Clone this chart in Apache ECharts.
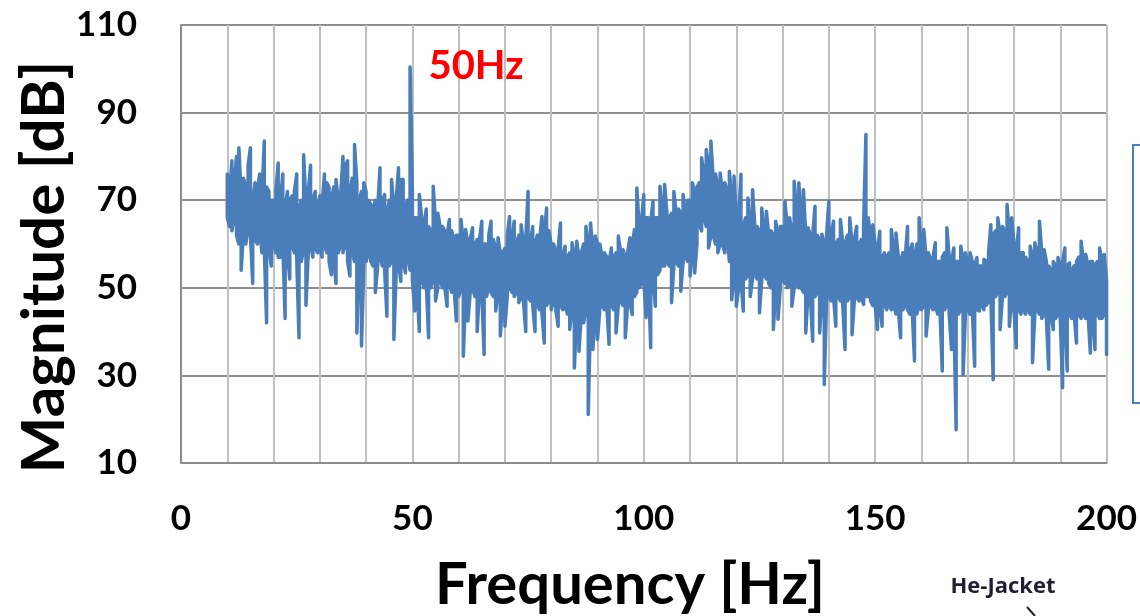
<!DOCTYPE html>
<html>
<head>
<meta charset="utf-8">
<script src="https://cdn.jsdelivr.net/npm/echarts@6/dist/echarts.min.js"></script>
<style>
  html, body { margin: 0; padding: 0; background: #ffffff; }
  #chart { width: 1140px; height: 616px; }
</style>
</head>
<body>
<div id="chart"></div>
<script>
// Frequency bins: 10 Hz to 200 Hz, 0.5 Hz apart.
// For each bin the spectrum's highest and lowest magnitude [dB] inside the bin.
const freqStart = 10;
const freqStep = 0.5;

const upper10  = [76,72,79,74,80,82,71,75,73,78,82,70,74,72,76,71,83.5,73,72,70];
const lower10  = [66,64,63,66,62,60,54,63,60,64,62,51,61,60,63,58,59,42,60,55];
const upper20  = [70,72,78.5,70,76,68,72,70,71,72,76,68,70,80.4,69,72,78,70,72,68];
const lower20  = [60,58,57,57,60,43,58,52,60,58,57,38.6,56,59,46,58,60,57,59,58];
const upper30  = [71,69,76,74,73,70,73,74.7,70,71,80,78,79,72,75,82.7,74,70,72,74];
const lower30  = [59,57,60,58,56,53,57,51,58,60,58,60,56,52.7,58,56,39.7,55,36.7,55];
const upper40  = [72,70,69,68,70,68,77.4,70,71.3,67,70,74.7,68,70,77.4,74.7,74.7,69,70,100.4];
const lower40  = [56,58,56,55,48.9,55,57,55,54,43.5,55,56,38.2,54,56,51.5,56,53.4,57,54];
const upper50  = [72,66,66,71.3,66,64,68,64,63,73.2,65,67,64,64,63,62,65.6,63,61,62];
const lower50  = [52,44.7,50,40,52,50,51,38.6,50,52,47,50,52,50,50,45.8,51,49,50,42.4];
const upper60  = [62,65.6,60,63.3,60,61,63.7,60,61,61,65.2,60,60,62,65.2,61,59,61.4,58,58];
const lower60  = [48,50,34.4,48,42.4,49,50,48,40,50,49,34.8,48,50,49,48,44.7,49,39,47];
const upper70  = [59,62,66.3,61,65.2,60,62,64.4,60,61,72,60,64,60,62,61,66.3,62,68.2,63];
const lower70  = [41.2,48,50,49,48,49,46.6,48,47,40,48,47,46,40,46,45,44,37.4,46,47];
const upper80  = [60,60,58,59,64.8,57,59.5,57,58,60.3,57,60.6,57,58,60,64,60,64.8,58,61.8];
const lower80  = [45,47,45,41.2,46,45,46,44,40.5,45,31.7,44,35.5,44,42,45,21.1,44,35.9,44];
const upper90  = [60,60,57,58,57,56,59.1,57,58,61.8,58,58.7,57,58,61.4,60,63.3,72.8,64,65];
const lower90  = [38.2,45,46,45,46,37.1,46,45,39.7,46,47,46,38.6,46,47,43.9,48,49,50,51];
const upper100 = [71.3,66,66,65,69.8,66,66,73.2,68,73.6,67,66,67,72,67,68,67,71.3,67,70];
const lower100 = [52,43.2,52,36.3,52,45.8,53,54,55,55,56,55,46.6,55,56,55,49.2,56,57,56];
const upper110 = [70,74,72,73,74,79.7,76,81.6,78,83.5,75,76,73,76.2,72,74,72,76.6,70,75.5];
const lower110 = [52.7,58,53.4,60,64.4,63,66,64,59.1,62,62,60,58,60,60,58,62,56,47.3,52];
const upper120 = [66,66,75.9,64,66,70.5,64,72.4,64,64,63,68.2,63,67.5,62,63,62,65.2,62,64];
const lower120 = [45.8,50,52,44.7,52,53,48,52,53,52,44.3,52,53,52,51,50,40.5,50,42.8,50];
const upper130 = [64,69.8,64,66,63,74.3,68,74,66,72.4,62,63.7,62,62,68.6,62,61,62.2,60,62];
const lower130 = [52,51,50,51,45.8,50,51,50,50,49,39.7,49,48,37.8,48,49,39.7,48,27.9,47];
const upper140 = [69.8,62,65.2,60,61,65.6,60,60,62,66,60,61,64,60,61,64,85,66,62,64.4];
const lower140 = [48,47,48,41.2,48,47,46,35.9,47,48,39.3,47,48,47,48,46.2,48,48,47,46];
const upper150 = [60,58,62.9,57,58,57,58,63.3,58,62.5,57,56,58,57,64,58,60,57,60,66];
const lower150 = [46,40.5,46,41.2,46,45,46,45,46,44,45,38.6,45,46,45,44,45,33.3,44,46];
const upper160 = [58,63.3,57,58,56,57,60.3,56,56,57,58,63.7,57,56,59.1,56,56,59.5,56,58];
const lower160 = [45,46,39,45,46,45,46,44,45,31,45,46,44,35.9,44,17.6,44,45,30.2,44];
const upper170 = [56,58,56,55,56.9,55,55,56.5,56,58,64.4,62,63,66,62,64,63,69,62,66];
const lower170 = [45,44,45,32.1,45,44.7,46,45,46,47,48,29,48,49,40.5,48,48,49,41.2,48];
const upper180 = [60,58,63.7,58,58,57,56,59.5,57,60.3,58,65.2,58,58.7,56,55,54,56,55,56.9];
const lower180 = [45,36.3,45,44,45,44,45,44,32.9,44,45,44,43,44,43,31.4,44,40.5,43,44];
const upper190 = [55,56,59.1,55,55.7,54,55,56,57,60.6,56,57.6,55,56,56,55,56,59.1,56,57.6,52];
const lower190 = [43,27.2,44,31,44,43,44,37.4,44,43,44,43,44,35.1,43,35.9,44,43,43,44,34.8];

const xTickLabels = [0, 50, 100, 150, 200];
const yTickLabels = [10, 30, 50, 70, 90, 110];
const peakLabel = '50Hz';
const peakFreq = 49.5;
const peakValue = 100.4;

const upper = [].concat(upper10, upper20, upper30, upper40, upper50, upper60, upper70, upper80, upper90,
  upper100, upper110, upper120, upper130, upper140, upper150, upper160, upper170, upper180, upper190);
const lower = [].concat(lower10, lower20, lower30, lower40, lower50, lower60, lower70, lower80, lower90,
  lower100, lower110, lower120, lower130, lower140, lower150, lower160, lower170, lower180, lower190);

// Trace each bin from one extreme to the other, so the dense spectrum reads as one band.
const seriesData = [];
upper.forEach((hi, i) => {
  const f = freqStart + i * freqStep;
  const lo = lower[i];
  if (i % 2 === 0) { seriesData.push([f, hi], [f, lo]); }
  else { seriesData.push([f, lo], [f, hi]); }
});

const chart = echarts.init(document.getElementById('chart'), null, { renderer: 'canvas' });
const FONT = 'Lato, "Open Sans", sans-serif';

chart.setOption({
  animation: false,
  backgroundColor: '#ffffff',
  grid: { left: 181, right: 32, top: 25, bottom: 153, containLabel: false },
  xAxis: {
    type: 'value',
    min: 0, max: 200, interval: 10,
    axisLine: { show: true, lineStyle: { color: '#8c8c8c', width: 2 } },
    axisTick: { show: false },
    splitLine: { show: true, lineStyle: { color: '#c0c0c0', width: 2 } },
    axisLabel: {
      margin: 38,
      color: '#000000', fontSize: 35, fontWeight: 'bold', fontFamily: FONT,
      formatter: v => (xTickLabels.indexOf(v) >= 0 ? String(v) : '')
    }
  },
  yAxis: {
    type: 'value',
    min: 10, max: 110, interval: 20,
    axisLine: { show: true, lineStyle: { color: '#8c8c8c', width: 2 } },
    axisTick: { show: false },
    splitLine: { show: true, lineStyle: { color: '#8f8f8f', width: 2 } },
    axisLabel: {
      margin: 44,
      color: '#000000', fontSize: 35, fontWeight: 'bold', fontFamily: FONT,
      formatter: v => (yTickLabels.indexOf(v) >= 0 ? String(v) : '')
    }
  },
  series: [{
    type: 'line',
    data: seriesData,
    showSymbol: false,
    symbol: 'none',
    sampling: null,
    lineStyle: { color: '#4a7ebb', width: 3.5, join: 'round', cap: 'round' },
    z: 3,
    markPoint: {
      symbol: 'circle', symbolSize: 0,
      label: {
        show: true, formatter: peakLabel, position: 'inside',
        offset: [66, -1],
        color: '#ff0000', fontSize: 40, fontWeight: 'bold', fontFamily: FONT
      },
      data: [{ coord: [peakFreq, peakValue] }]
    }
  }],
  graphic: [
    {
      type: 'text', x: 45, y: 267, rotation: Math.PI / 2,
      style: {
        text: 'Magnitude [dB]', x: 0, y: 0, align: 'center', verticalAlign: 'middle',
        fill: '#000000', font: 'bold 60px ' + FONT
      }
    },
    {
      type: 'text', x: 630, y: 585,
      style: {
        text: 'Frequency [Hz]', x: 0, y: 0, align: 'center', verticalAlign: 'middle',
        fill: '#000000', font: 'bold 58px ' + FONT
      }
    },
    {
      type: 'rect', shape: { x: 1133, y: 145, width: 40, height: 258 },
      style: { fill: 'none', stroke: '#4a7ebb', lineWidth: 2 }
    },
    {
      type: 'text', x: 1003, y: 587,
      style: {
        text: 'He-Jacket', x: 0, y: 0, align: 'center', verticalAlign: 'middle',
        fill: '#1f1f33', font: 'bold 22px "Open Sans", sans-serif'
      }
    },
    {
      type: 'line', shape: { x1: 1027, y1: 607, x2: 1035, y2: 616 },
      style: { stroke: '#222222', lineWidth: 2 }
    }
  ]
});
</script>
</body>
</html>
